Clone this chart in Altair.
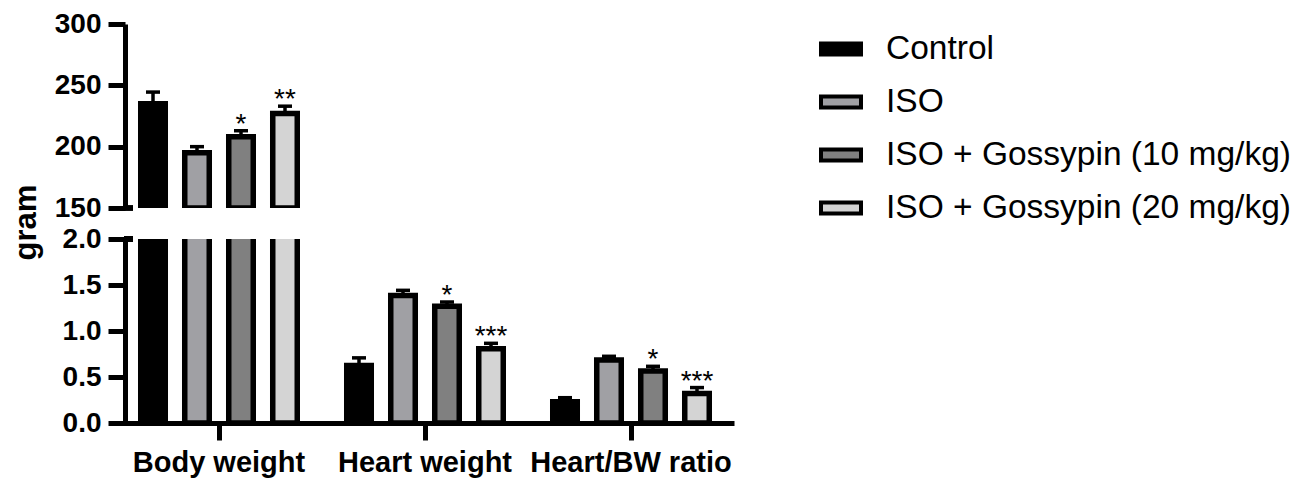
import altair as alt
import pandas as pd

groups = ["Body weight", "Heart weight", "Heart/BW ratio"]
treatments = ["Control", "ISO", "ISO + Gossypin (10 mg/kg)", "ISO + Gossypin (20 mg/kg)"]
colors = ["#000000", "#a0a0a4", "#808080", "#d4d4d4"]

body_weight = [235, 195, 208, 227]
body_weight_err = [9.5, 5, 5, 6]
heart_weight = [0.625, 1.386, 1.27, 0.807]
heart_weight_err = [0.083, 0.056, 0.045, 0.059]
heart_bw_ratio = [0.23, 0.684, 0.564, 0.321]
heart_bw_ratio_err = [0.045, 0.041, 0.052, 0.064]
stars_body = ["", "", "*", "**"]
stars_heart = ["", "", "*", "***"]
stars_ratio = ["", "", "*", "***"]

top_ticks = [150, 200, 250, 300]
bottom_ticks = [0.0, 0.5, 1.0, 1.5, 2.0]

rows = []
for g, vals, errs, stars in zip(
    groups,
    [body_weight, heart_weight, heart_bw_ratio],
    [body_weight_err, heart_weight_err, heart_bw_ratio_err],
    [stars_body, stars_heart, stars_ratio],
):
    for t, v, e, s in zip(treatments, vals, errs, stars):
        rows.append({"measure": g, "group": t, "value": v, "upper": v + e, "star": s})
df = pd.DataFrame(rows)

FONT = "Liberation Sans"

x_scale = alt.Scale(domain=groups, paddingInner=0, paddingOuter=0)
xo_scale = alt.Scale(domain=treatments, paddingInner=0.443, paddingOuter=0.5625)
color_scale = alt.Scale(domain=treatments, range=colors)

PW = 618


def panel(data, mark_data, domain, ticks, fmt, height, show_x, show_legend, title, brk):
    y_axis = alt.Axis(
        values=ticks, format=fmt, offset=-9, tickSize=17, tickWidth=5, domainWidth=5,
        domainColor="black", tickColor="black", labelFontSize=28, labelFont=FONT,
        labelFontWeight="bold", labelColor="black", labelPadding=7, grid=False,
        title=title if title else None,
        **({"titleX": -90, "titleY": 198, "titleAngle": -90, "titleBaseline": "alphabetic",
            "titleFontSize": 31, "titleFont": FONT, "titleFontWeight": "bold",
            "titleColor": "black", "titleAlign": "center"} if title else {}),
    )
    x_axis = alt.Axis(
        title=None, labelAngle=0, tickSize=17, tickWidth=5, domainWidth=5,
        domainColor="black", tickColor="black", labelFontSize=29, labelFont=FONT,
        labelFontWeight="bold", labelColor="black", labelPadding=8, labelLimit=500,
    ) if show_x else None
    legend = alt.Legend(
        title=None, orient="none", legendX=703, legendY=-212, padding=0,
        symbolType="M-1,-0.275H1V0.275H-1Z", symbolSize=1600, symbolStrokeColor="black",
        symbolStrokeWidth=4, symbolOpacity=1, labelFontSize=33.5, labelFont=FONT,
        labelColor="black", labelLimit=600, labelOffset=23, rowPadding=14,
    ) if show_legend else None

    ysc = alt.Scale(domain=domain, zero=False, nice=False)

    def enc(ch):
        return ch.encode(
            x=alt.X("measure:N", scale=x_scale, axis=x_axis, sort=groups),
            xOffset=alt.XOffset("group:N", scale=xo_scale, sort=treatments),
        )

    bars = enc(alt.Chart(data).mark_bar(stroke="black", strokeWidth=5.5, clip=True)).encode(
        y=alt.Y("value:Q", scale=ysc, axis=y_axis),
        y2=alt.datum(domain[0]),
        fill=alt.Fill("group:N", scale=color_scale, legend=legend, sort=treatments),
    )
    mk = alt.Chart(mark_data)
    err = enc(mk.mark_rule(color="black", strokeWidth=3.5)).encode(
        y=alt.Y("value:Q", scale=ysc), y2="upper:Q"
    )
    cap = enc(mk.mark_tick(color="black", thickness=3.5, size=14, opacity=1)).encode(
        y=alt.Y("upper:Q", scale=ysc)
    )
    star = enc(mk.mark_text(fontSize=28, font=FONT, color="black", baseline="alphabetic",
                            dy=2)).encode(
        y=alt.Y("upper:Q", scale=ysc), text="star:N"
    )
    brk_mark = alt.Chart(data).mark_rule(color="black", strokeWidth=5).encode(
        x=alt.value(8), x2=alt.value(17), y=alt.datum(brk, scale=ysc)
    )
    return alt.layer(bars, err, cap, star, brk_mark).properties(width=PW, height=height)


bw = df[df["measure"] == "Body weight"]
rest = df[df["measure"] != "Body weight"]
top = panel(bw, bw, [150, 300], top_ticks, "d", 184, False, False, "gram", 150)
bottom = panel(df, rest, [0, 2], bottom_ticks, ".1f", 184, True, True, None, 2)

chart = alt.vconcat(top, bottom, spacing=31, bounds="flush").resolve_scale(
    fill="independent"
).properties(padding={"left": 2, "top": 2, "right": 5, "bottom": 2}).configure_view(stroke=None)

chart.save("out.html", embed_options={"renderer": "svg", "actions": False})
